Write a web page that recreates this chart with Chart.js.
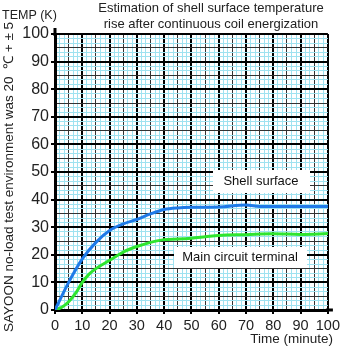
<!DOCTYPE html>
<html>
<head>
<meta charset="utf-8">
<script src="https://cdn.jsdelivr.net/npm/chart.js@4/dist/chart.umd.min.js"></script>
<style>
  html, body { margin: 0; padding: 0; background: #fff; }
  canvas { display: block; }
</style>
</head>
<body>
<canvas id="tempChart" width="343" height="346"></canvas>
<script>
// shell surface temperature rise (K) against time (minute)
const shellTimes = [0, 5, 10, 15, 20, 25, 30, 35, 40, 45, 50, 60, 70, 75, 80, 90, 100];
const shellTemps = [0, 10, 18.5, 24.5, 28.8, 31.2, 32.8, 34.8, 36.4, 37, 37.2, 37.3, 38, 37.5, 37.5, 37.5, 37.5];

// main circuit terminal temperature rise (K)
const terminalTimes = [0, 2.5, 5, 7.5, 10, 12.5, 15, 20, 25, 30, 35, 40, 45, 50, 55, 60, 70, 80, 90, 100];
const terminalTemps = [0, 1, 3, 6, 10, 13, 15, 18, 21, 23, 24.5, 25.5, 25.7, 26, 26.5, 27, 27.3, 27.6, 27.4, 27.7];

// grid step is 10/6, every 6th line is a labelled major line
const gridStep = 10 / 6;
const gridCount = 60;

const FONT = "'Liberation Sans', Arial, sans-serif";

function toPoints(xs, ys) {
  return xs.map((x, i) => ({ x: x, y: ys[i] }));
}

function buildGridTicks(scale) {
  const ticks = [];
  for (let i = 0; i <= gridCount; i++) {
    ticks.push({ value: i * gridStep });
  }
  scale.ticks = ticks;
}

const gridStyle = {
  color: (c) => {
    if (c.index % 6 === 0) return "#000";
    if (c.index % 3 === 0) return "#333";
    return "#9fe2f0";
  },
  lineWidth: (c) => (c.index % 6 === 0 ? 2 : 1),
  tickColor: (c) => (c.index % 6 === 0 ? "#000" : "rgba(0,0,0,0)"),
  tickLength: 4,
};

// titles, rotated note and the two curve labels
const textPlugin = {
  id: "chartText",
  afterDatasetsDraw(chart) {
    const ctx = chart.ctx;
    const area = chart.chartArea;
    ctx.save();

    // extend the axis lines a little past the end values
    ctx.strokeStyle = "#000";
    ctx.lineWidth = 3;
    ctx.beginPath();
    ctx.moveTo(area.left, area.top + 2);
    ctx.lineTo(area.left, area.top - 6);
    ctx.moveTo(area.right - 2, area.bottom);
    ctx.lineTo(area.right + 5, area.bottom);
    ctx.stroke();

    ctx.fillStyle = "#222";
    ctx.textBaseline = "middle";

    ctx.font = "13px " + FONT;
    ctx.textAlign = "center";
    ctx.fillText("Estimation of shell surface temperature", 211, 8);
    ctx.fillText("rise after continuous coil energization", 211, 24);

    ctx.textAlign = "left";
    ctx.font = "12.5px " + FONT;
    ctx.fillText("TEMP (K)", 2, 16);

    ctx.textAlign = "right";
    ctx.font = "13.5px " + FONT;
    ctx.fillText("Time (minute)", 333, 339);

    ctx.save();
    ctx.translate(9, 177);
    ctx.rotate(-Math.PI / 2);
    ctx.textAlign = "center";
    ctx.font = "13.5px " + FONT;
    ctx.fillText("SAYOON no-load test environment was 20  \u2103 + \u00b1 5", 0, 0);
    ctx.restore();

    const labels = [
      { text: "Shell surface", box: [213, 170, 97, 23], cx: 261, cy: 181 },
      { text: "Main circuit terminal", box: [174, 247, 133, 21], cx: 240, cy: 257.5 },
    ];
    ctx.font = "13px " + FONT;
    ctx.textAlign = "center";
    labels.forEach((l) => {
      ctx.fillStyle = "#fff";
      ctx.fillRect(l.box[0], l.box[1], l.box[2], l.box[3]);
      ctx.fillStyle = "#111";
      ctx.fillText(l.text, l.cx, l.cy);
    });

    ctx.restore();
  },
};

const ctx = document.getElementById("tempChart").getContext("2d");

const chart = new Chart(ctx, {
  type: "line",
  data: {
    datasets: [
      {
        label: "Shell surface",
        data: toPoints(shellTimes, shellTemps),
        borderColor: "#1f7ae8",
        borderWidth: 3,
        pointRadius: 0,
        cubicInterpolationMode: "monotone",
      },
      {
        label: "Main circuit terminal",
        data: toPoints(terminalTimes, terminalTemps),
        borderColor: "#2fe52f",
        borderWidth: 3,
        pointRadius: 0,
        cubicInterpolationMode: "monotone",
      },
    ],
  },
  options: {
    responsive: false,
    animation: false,
    devicePixelRatio: 1,
    layout: { padding: { left: 0, top: 34, right: 12, bottom: 0 } },
    plugins: {
      legend: { display: false },
      tooltip: { enabled: false },
    },
    scales: {
      x: {
        type: "linear",
        min: 0,
        max: 100,
        afterBuildTicks: buildGridTicks,
        afterFit: (scale) => { scale.height = 36; },
        border: { color: "#000", width: 3 },
        grid: gridStyle,
        ticks: {
          autoSkip: false,
          maxRotation: 0,
          padding: 3,
          color: "#222",
          font: { family: FONT, size: 14.5 },
          callback: (v, i) => (i % 6 === 0 ? String(i / 6 * 10) : ""),
        },
      },
      y: {
        min: 0,
        max: 100,
        afterBuildTicks: buildGridTicks,
        afterFit: (scale) => { scale.width = 55; },
        border: { color: "#000", width: 3 },
        grid: gridStyle,
        ticks: {
          autoSkip: false,
          padding: 2,
          color: "#222",
          font: { family: FONT, size: 16 },
          callback: (v, i) => (i % 6 === 0 ? String(i / 6 * 10) : ""),
        },
      },
    },
  },
  plugins: [textPlugin],
});
</script>
</body>
</html>
